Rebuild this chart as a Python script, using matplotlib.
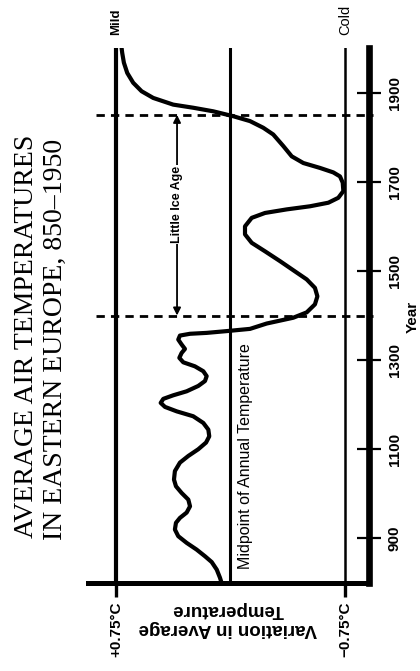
import numpy as np
import matplotlib.pyplot as plt

# chart is printed sideways: year runs up the page, temperature runs right-to-left
years = [800, 812, 830, 847, 860, 875, 890, 905, 920, 935, 946, 958, 972,
         987, 1002, 1017, 1032, 1051, 1070, 1085, 1100, 1115, 1129, 1144,
         1159, 1174, 1185, 1195, 1204, 1213, 1221, 1230, 1242, 1253, 1264,
         1275, 1286, 1295, 1305, 1316, 1325, 1335, 1346, 1355, 1359, 1361,
         1365, 1370, 1382, 1395, 1407, 1425, 1443, 1462, 1481, 1499, 1522,
         1544, 1563, 1582, 1600, 1619, 1630, 1638, 1645, 1653, 1664, 1679,
         1698, 1712, 1721, 1731, 1742, 1757, 1780, 1806, 1821, 1836, 1847,
         1858, 1866, 1873, 1888, 1903, 1922, 1944, 1967, 1989, 2000]
temps = [0.058, 0.069, 0.090, 0.123, 0.167, 0.222, 0.287, 0.342, 0.364,
         0.357, 0.331, 0.287, 0.265, 0.276, 0.320, 0.357, 0.370, 0.364,
         0.331, 0.276, 0.211, 0.160, 0.139, 0.145, 0.178, 0.244, 0.352,
         0.429, 0.457, 0.440, 0.375, 0.287, 0.211, 0.167, 0.156, 0.178,
         0.233, 0.309, 0.335, 0.320, 0.298, 0.320, 0.342, 0.331, 0.265,
         0.156, 0.025, -0.128, -0.237, -0.411, -0.499, -0.553, -0.569,
         -0.553, -0.499, -0.422, -0.324, -0.226, -0.139, -0.095, -0.095,
         -0.139, -0.226, -0.368, -0.521, -0.641, -0.706, -0.739, -0.735,
         -0.717, -0.673, -0.586, -0.477, -0.401, -0.346, -0.280, -0.215,
         -0.128, -0.018, 0.113, 0.244, 0.375, 0.506, 0.582, 0.637, 0.676,
         0.698, 0.709, 0.713]

year_ticks = [900, 1100, 1300, 1500, 1700, 1900]
temp_ticks = [0.75, -0.75]
temp_labels = ['+0.75°C', '\u22120.75°C']
ice_age = [1400, 1850]

sans = ['Liberation Sans', 'DejaVu Sans']
serif = ['Liberation Serif', 'DejaVu Serif']

fig = plt.figure(figsize=(4.2, 6.71), dpi=100)
W, H = 420, 671
ax = fig.add_axes([88 / W, (H - 583) / H, (369 - 88) / W, (583 - 48) / H])
ax.set_xlim(0.933, -0.907)
ax.set_ylim(800, 2000)

# reference lines
ax.axvline(0.75, color='black', lw=3)
ax.axvline(0, color='black', lw=2.2)
ax.axvline(-0.75, color='black', lw=1.8)

# the curve
ax.plot(temps, years, color='black', lw=3, solid_capstyle='round',
        solid_joinstyle='round')

# little ice age boundaries
for yr in ice_age:
    ax.plot([0.88, -0.935], [yr, yr], color='black', lw=2,
            dashes=(3, 2.2), clip_on=False)

ax.annotate('', xy=(0.35, ice_age[1]), xytext=(0.35, ice_age[0]),
            arrowprops=dict(arrowstyle='<|-|>', color='black', lw=1.3,
                            mutation_scale=11, shrinkA=0, shrinkB=0))
ax.text(0.35, np.mean(ice_age) + 24, 'Little Ice Age', rotation=90,
        ha='center', va='center', fontsize=9, fontweight='bold',
        family=sans, bbox=dict(facecolor='white', edgecolor='none', pad=0.5))

ax.text(-0.10, 831, 'Midpoint of Annual Temperature', rotation=90,
        rotation_mode='anchor', ha='left', va='center', fontsize=11.5,
        family=sans)

ax.text(0.75, 2058, 'Mild', rotation=90, ha='center', va='center',
        fontsize=9.5, fontweight='bold', family=sans)
ax.text(-0.75, 2064, 'Cold', rotation=90, ha='center', va='center',
        fontsize=10.5, family=sans)

# axes styling
for s in ['left', 'top']:
    ax.spines[s].set_visible(False)
ax.spines['right'].set_linewidth(4.8)
ax.spines['bottom'].set_linewidth(3.6)

ax.yaxis.tick_right()
ax.set_yticks(year_ticks)
ax.set_yticklabels([str(y) for y in year_ticks], rotation=90, va='center',
                   fontsize=11, fontweight='bold', family=sans)
ax.tick_params(axis='y', direction='inout', length=17, width=1.6, pad=5)

ax.set_xticks(temp_ticks)
ax.set_xticklabels(temp_labels, rotation=90, fontsize=11, fontweight='bold',
                   family=sans)
ax.tick_params(axis='x', direction='out', length=10, width=2.4, pad=3)

fig.text(228 / W, 1 - 619 / H, 'Variation in Average\nTemperature',
         rotation=180, ha='center', va='center', multialignment='center',
         fontsize=13.5, fontweight='bold', family=sans, linespacing=1.15)
fig.text(413 / W, 1 - 317 / H, 'Year', rotation=90, ha='center',
         va='center', fontsize=11, fontweight='bold', family=sans)

fig.text(33 / W, 1 - 538 / H, 'AVERAGE AIR TEMPERATURES', rotation=90,
         rotation_mode='anchor', ha='left', va='baseline', fontsize=20,
         family=serif)
fig.text(62 / W, 1 - 540 / H, 'IN EASTERN EUROPE, 850\u20131950', rotation=90,
         rotation_mode='anchor', ha='left', va='baseline', fontsize=20,
         family=serif)

fig.savefig('out.png', dpi=100, facecolor='white')
